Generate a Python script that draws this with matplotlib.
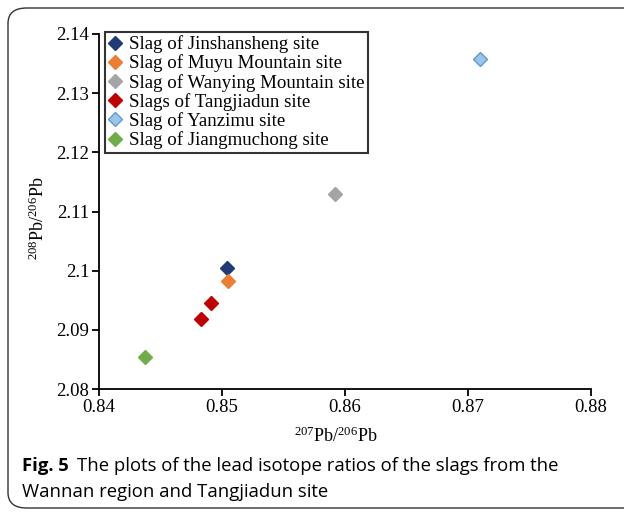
import matplotlib
matplotlib.use("Agg")
import matplotlib.pyplot as plt
from matplotlib.patches import FancyBboxPatch

labels = ["Slag of Jinshansheng site", "Slag of Muyu Mountain site",
          "Slag of Wanying Mountain site", "Slags of Tangjiadun site",
          "Slag of Yanzimu site", "Slag of Jiangmuchong site"]
x_vals = [[0.8504], [0.8505], [0.8592], [0.8491, 0.8483], [0.8710], [0.8437]]
y_vals = [[2.1004], [2.0983], [2.1129], [2.0946, 2.0918], [2.1357], [2.0854]]
face_colors = ["#1F3A75", "#ED7D31", "#A5A5A5", "#C00000", "#9DC3E6", "#70AD47"]
edge_colors = ["#1F3A75", "#ED7D31", "#A5A5A5", "#C00000", "#5B9BD5", "#70AD47"]
x_ticks = [0.84, 0.85, 0.86, 0.87, 0.88]
y_ticks = [2.08, 2.09, 2.10, 2.11, 2.12, 2.13, 2.14]
y_tick_labels = ["2.08", "2.09", "2.1", "2.11", "2.12", "2.13", "2.14"]

serif = "Liberation Serif"
plt.rcParams["font.family"] = serif
plt.rcParams["mathtext.fontset"] = "custom"
plt.rcParams["mathtext.rm"] = serif
plt.rcParams["mathtext.it"] = serif

fig = plt.figure(figsize=(6.24, 5.13), dpi=100)
ax = fig.add_axes([99/624, 1-389/513, (591-99)/624, (389-34)/513])

for xs, ys, fc, ec, lab in zip(x_vals, y_vals, face_colors, edge_colors, labels):
    ax.plot(xs, ys, linestyle="none", marker="D", markersize=7,
            markerfacecolor=fc, markeredgecolor=ec, markeredgewidth=1.0, label=lab)

ax.set_xlim(0.84, 0.88)
ax.set_ylim(2.08, 2.14)
ax.set_xticks(x_ticks)
ax.set_xticklabels([f"{v:.2f}" for v in x_ticks], fontsize=13.5)
ax.set_yticks(y_ticks)
ax.set_yticklabels(y_tick_labels, fontsize=13.5)
for s in ["top", "right"]:
    ax.spines[s].set_visible(False)
for s in ["left", "bottom"]:
    ax.spines[s].set_linewidth(1.3)
ax.tick_params(direction="out", length=5, width=1.3, pad=2, colors="black")

ax.set_xlabel(r"$^{207}$Pb/$^{206}$Pb", fontsize=13)
ax.set_ylabel(r"$^{208}$Pb/$^{206}$Pb", fontsize=13)
ax.xaxis.set_label_coords(0.482, -0.105)
ax.yaxis.set_label_coords(-0.104, 0.48)

leg = ax.legend(loc="upper left", bbox_to_anchor=(0.012, 1.007), frameon=True,
                fancybox=False, prop={"family": serif, "size": 13.6},
                handlelength=0.7, handletextpad=0.35, labelspacing=0.07,
                borderpad=0.2, borderaxespad=0.0, markerscale=1.0)
leg.get_frame().set_edgecolor("black")
leg.get_frame().set_linewidth(1.5)

cap = 13.3
fig.text(22/624, 1-466/513, "Fig. 5", fontfamily="Open Sans", fontweight="bold",
         fontsize=cap, va="center", ha="left")
fig.text(77/624, 1-466/513, "The plots of the lead isotope ratios of the slags from the",
         fontfamily="Open Sans", fontsize=cap, va="center", ha="left")
fig.text(22/624, 1-492/513, "Wannan region and Tangjiadun site",
         fontfamily="Open Sans", fontsize=cap, va="center", ha="left")

frame = FancyBboxPatch((8/624, 5/513), 1.2, (505-5)/513,
                       boxstyle="round,pad=0,rounding_size=0.03",
                       transform=fig.transFigure, fill=False,
                       edgecolor="#333333", linewidth=1.0)
fig.patches.append(frame)

fig.savefig("out.png", dpi=100)
